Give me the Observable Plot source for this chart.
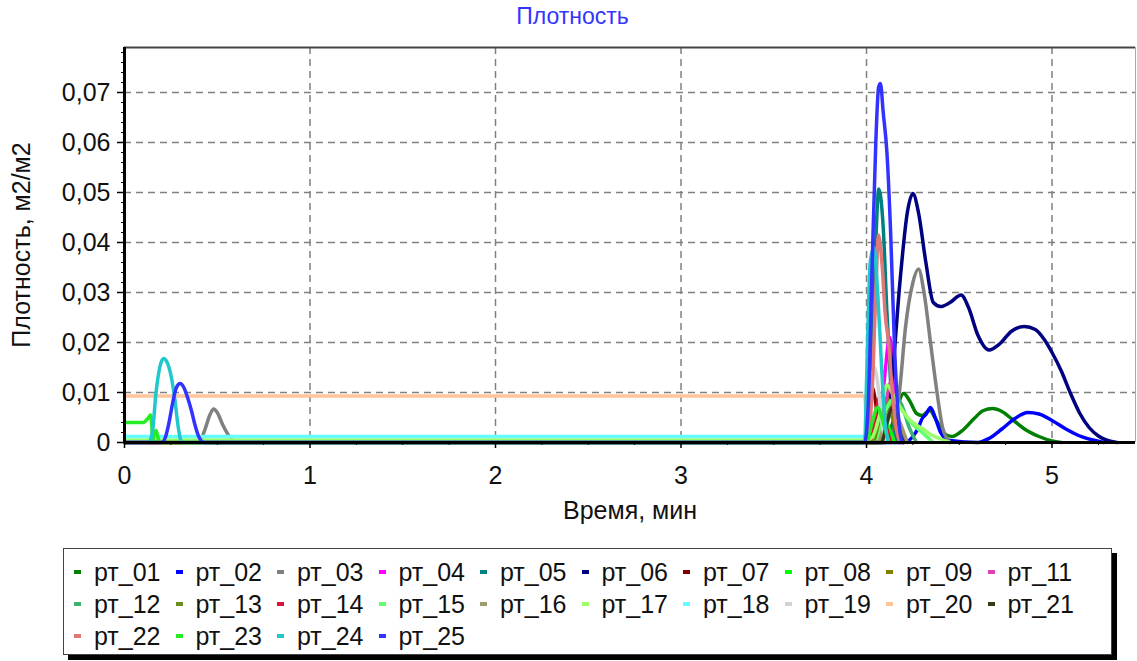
<!DOCTYPE html>
<html><head><meta charset="utf-8">
<script src="https://cdn.jsdelivr.net/npm/d3@7"></script>
<script src="https://cdn.jsdelivr.net/npm/@observablehq/plot@0.6"></script>
<style>
body{margin:0;background:#fff;font-family:"Liberation Sans",Arial,sans-serif;}
#wrap{position:relative;width:1137px;height:661px;overflow:hidden;background:#fff;}
#title{position:absolute;left:0;width:1145px;top:3px;text-align:center;color:#3434ff;font-size:23px;}
#chart{position:absolute;left:0;top:36px;}
#legend{position:absolute;left:63px;top:548px;width:1049px;height:107px;border:1px solid #444;box-shadow:5px 5px 0 #000;background:#fff;box-sizing:border-box;padding:7px 0 0 10px;display:flex;flex-wrap:wrap;align-content:flex-start;}
.item{width:101.5px;height:32px;display:flex;align-items:center;font-size:25px;color:#111;white-space:nowrap;}
.sw{width:7px;height:4px;margin-right:13px;flex:none;}
</style></head><body>
<div id="wrap"><div id="title">Плотность</div><div id="chart"></div><div id="legend"></div></div>
<script>
// ---- data ----
const seriesNames = ["рт_01","рт_02","рт_03","рт_04","рт_05","рт_06","рт_07","рт_08","рт_09","рт_11","рт_12","рт_13","рт_14","рт_15","рт_16","рт_17","рт_18","рт_19","рт_20","рт_21","рт_22","рт_23","рт_24","рт_25"];
const seriesColors = ["#008000","#0000ff","#808080","#ff00ff","#008080","#000080","#800000","#00ff00","#808000","#e040b0","#3cb371","#6b8e23","#dc143c","#60ff70","#9c9c6c","#99ff66","#66ffff","#d3d3d3","#ffc49a","#3a3a10","#e07878","#22ee22","#20c8cc","#3333ff"];
const xTicks = [0,1,2,3,4,5];
const yTicks = [0,0.01,0.02,0.03,0.04,0.05,0.06,0.07];
const xTitle = "Время, мин";
const yTitle = "Плотность, м2/м2";

const pt01 = [[0,0],[4.1,0],[4.15,0.005],[4.2,0.0098],[4.23,0.0085],[4.27,0.0058],[4.3,0.0054],[4.34,0.0064],[4.38,0.0042],[4.42,0.0018],[4.46,0.0012],[4.52,0.0025],[4.58,0.0048],[4.63,0.0064],[4.68,0.0068],[4.73,0.0062],[4.79,0.0045],[4.86,0.0025],[4.93,0.0012],[5.0,0.0003],[5.05,0]];
const pt02 = [[0,0],[4.2,0],[4.25,0.0012],[4.28,0.003],[4.3,0.0048],[4.32,0.0056],[4.345,0.007],[4.37,0.005],[4.4,0.002],[4.45,0.0004],[4.6,0],[4.66,0.0008],[4.73,0.0027],[4.8,0.0048],[4.87,0.006],[4.93,0.0057],[5.0,0.0044],[5.07,0.0028],[5.15,0.0013],[5.22,0.0005],[5.28,0]];
const pt03 = [[0,0],[0.4,0],[0.43,0.0022],[0.46,0.0055],[0.48,0.0067],[0.5,0.006],[0.53,0.0035],[0.56,0.0015],[0.6,0],[4.12,0],[4.15,0.003],[4.18,0.011],[4.21,0.023],[4.25,0.032],[4.28,0.0347],[4.31,0.03],[4.345,0.02],[4.38,0.01],[4.41,0.003],[4.45,0]];
const pt04 = [[0,0],[4.05,0],[4.08,0.006],[4.1,0.014],[4.125,0.021],[4.145,0.015],[4.165,0.006],[4.19,0.0012],[4.22,0]];
const pt05 = [[0,0],[4.0,0],[4.03,0.015],[4.05,0.04],[4.066,0.0507],[4.09,0.043],[4.11,0.026],[4.13,0.012],[4.15,0.003],[4.17,0]];
const pt06 = [[0,0],[4.05,0],[4.1,0.004],[4.14,0.014],[4.18,0.032],[4.22,0.046],[4.25,0.0498],[4.28,0.046],[4.32,0.036],[4.36,0.028],[4.4,0.0272],[4.45,0.028],[4.51,0.0295],[4.55,0.027],[4.6,0.0215],[4.66,0.0185],[4.72,0.0198],[4.78,0.0222],[4.85,0.0232],[4.91,0.0226],[4.96,0.0205],[5.0,0.018],[5.05,0.0143],[5.1,0.0098],[5.15,0.0058],[5.2,0.003],[5.25,0.0013],[5.3,0.0004],[5.35,0]];
const pt07 = [[0,0],[4.0,0],[4.015,0.005],[4.03,0.011],[4.045,0.009],[4.06,0.005],[4.08,0.002],[4.1,0]];
const pt08 = [[0,0],[4.03,0],[4.06,0.003],[4.09,0.005],[4.12,0.003],[4.15,0]];
const pt09 = [[0,0],[4.04,0],[4.08,0.006],[4.11,0.009],[4.14,0.005],[4.18,0]];
const pt11 = [[0,0],[4.06,0],[4.1,0.007],[4.13,0.012],[4.16,0.006],[4.2,0]];
const pt12 = [[0,0],[4.08,0],[4.12,0.005],[4.16,0.009],[4.19,0.0075],[4.23,0.003],[4.27,0]];
const pt13 = [[0,0],[4.05,0],[4.09,0.005],[4.12,0.008],[4.16,0.004],[4.2,0]];
const pt14 = [[0,0],[4.02,0],[4.05,0.006],[4.07,0.009],[4.1,0.004],[4.13,0]];
const pt15 = [[0,0],[4.05,0],[4.1,0.006],[4.14,0.0085],[4.18,0.007],[4.24,0.004],[4.3,0.002],[4.36,0]];
const pt16 = [[0,0],[4.06,0],[4.1,0.004],[4.14,0.007],[4.18,0.004],[4.22,0]];
const pt17 = [[0,0.0005],[4.0,0.0005],[4.03,0.001],[4.06,0.004],[4.09,0.009],[4.11,0.0115],[4.15,0.009],[4.2,0.006],[4.25,0.004],[4.3,0.0028],[4.35,0.0015],[4.4,0.0007],[4.45,0]];
const pt18 = [[0,0.0012],[4.0,0.0012],[4.01,0]];
const pt19 = [[0,0],[4.0,0],[4.02,0.008],[4.04,0.015],[4.06,0.012],[4.08,0.005],[4.1,0]];
const pt20 = [[0,0.0093],[3.99,0.0093],[4.0,0]];
const pt21 = [[0,0],[4.08,0],[4.11,0.004],[4.14,0.007],[4.17,0.003],[4.2,0]];
const pt22 = [[0,0],[4.0,0],[4.03,0.01],[4.05,0.03],[4.065,0.0415],[4.085,0.035],[4.1,0.026],[4.12,0.0195],[4.14,0.0095],[4.165,0.002],[4.18,0]];
const pt23 = [[0,0.004],[0.1,0.004],[0.13,0.005],[0.14,0.0055],[0.148,0.003],[0.152,0],[0.16,0.0018],[0.17,0.0024],[0.18,0.001],[0.19,0],[4.0,0],[4.03,0.004],[4.06,0.007],[4.09,0.004],[4.12,0]];
const pt24 = [[0,0],[0.13,0],[0.15,0.002],[0.17,0.01],[0.19,0.015],[0.21,0.0168],[0.23,0.016],[0.25,0.0135],[0.27,0.009],[0.29,0.003],[0.31,0],[3.99,0],[4.0,0.012],[4.02,0.036],[4.04,0.039],[4.06,0.03],[4.08,0.016],[4.1,0.004],[4.12,0]];
const pt25 = [[0,0],[0.2,0],[0.22,0.001],[0.24,0.004],[0.26,0.008],[0.28,0.011],[0.3,0.0118],[0.32,0.011],[0.34,0.009],[0.36,0.0065],[0.38,0.0035],[0.4,0.0012],[0.43,0],[3.99,0],[4.01,0.008],[4.03,0.035],[4.05,0.06],[4.065,0.071],[4.075,0.0718],[4.09,0.066],[4.11,0.058],[4.13,0.042],[4.15,0.02],[4.17,0.006],[4.19,0]];

const seriesPoints = [pt01,pt02,pt03,pt04,pt05,pt06,pt07,pt08,pt09,pt11,pt12,pt13,pt14,pt15,pt16,pt17,pt18,pt19,pt20,pt21,pt22,pt23,pt24,pt25];
const rows = seriesNames.flatMap((name, i) => seriesPoints[i].map(([x, y]) => ({series: name, x, y})));

const xMax = 5.45, yMax = 0.079;
const fmtY = d => d === 0 ? "0" : d.toFixed(2).replace(".", ",");

const chart = Plot.plot({
  width: 1137, height: 500,
  marginTop: 11, marginLeft: 124, marginRight: 2, marginBottom: 94,
  style: {fontFamily: "Liberation Sans, Arial, sans-serif", fontSize: "25px", background: "white", color: "#111"},
  x: {domain: [0, xMax]},
  y: {domain: [0, yMax]},
  color: {domain: seriesNames, range: seriesColors},
  marks: [
    Plot.gridX(xTicks.slice(1), {stroke: "#808080", strokeOpacity: 1, strokeWidth: 1.5, strokeDasharray: "7,5"}),
    Plot.gridY(yTicks.slice(1), {stroke: "#808080", strokeOpacity: 1, strokeWidth: 1.5, strokeDasharray: "7,5"}),
    Plot.line(rows, {x: "x", y: "y", z: "series", stroke: "series", strokeWidth: 3.5, curve: "monotone-x"}),
    Plot.ruleY([yMax], {stroke: "#444", strokeWidth: 2}),
    Plot.ruleX([xMax], {stroke: "#aaa", strokeWidth: 1}),
    Plot.ruleX([0], {stroke: "#000", strokeWidth: 3}),
    Plot.ruleY([0], {stroke: "#000", strokeWidth: 3}),
    Plot.axisX(d3.range(0, xMax, 0.25), {tickSize: 3, text: null, label: null, stroke: "#000"}),
    Plot.axisX(xTicks, {tickSize: 6, tickPadding: 18, tickFormat: d => String(d), stroke: "#000", strokeWidth: 1.5,
      label: xTitle, labelAnchor: "center", labelOffset: 76, labelArrow: "none"}),
    Plot.axisY(d3.range(0, yMax, 0.002), {tickSize: 3, text: null, label: null, stroke: "#000"}),
    Plot.axisY(yTicks, {tickSize: 7, tickPadding: 7, tickFormat: fmtY, stroke: "#000", strokeWidth: 1.5,
      label: yTitle, labelAnchor: "center", labelOffset: 112, labelArrow: "none"})
  ]
});
document.getElementById("chart").appendChild(chart);

// legend
const legend = d3.select("#legend");
seriesNames.forEach((name, i) => {
  const it = legend.append("div").attr("class", "item");
  it.append("span").attr("class", "sw").style("background", seriesColors[i]);
  it.append("span").text(name);
});
</script>
</body></html>
